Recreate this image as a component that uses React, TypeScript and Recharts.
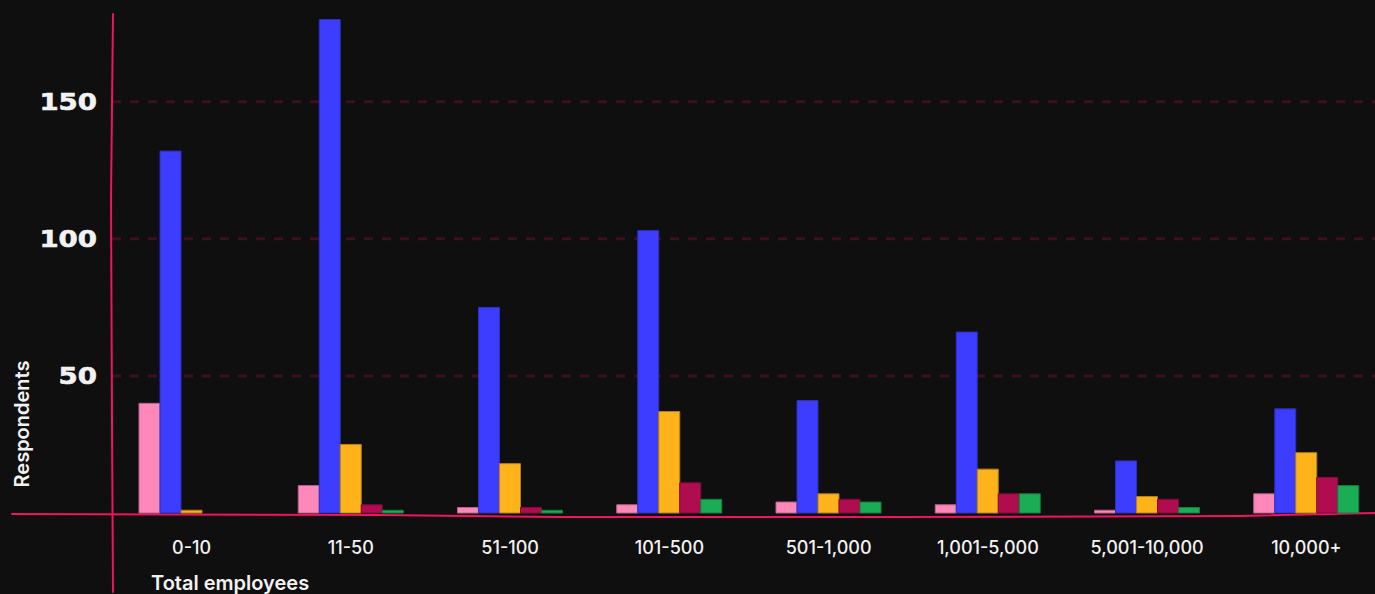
import React from 'react';
import {
  BarChart,
  Bar,
  XAxis,
  YAxis,
  CartesianGrid,
  Label,
  Customized,
} from 'recharts';

// company size buckets
const CATEGORIES = [
  '0-10',
  '11-50',
  '51-100',
  '101-500',
  '501-1,000',
  '1,001-5,000',
  '5,001-10,000',
  '10,000+',
];

// respondents per bucket, one array per coloured series
const PINK = [40, 10, 2, 3, 4, 3, 1, 7];
const BLUE = [132, 180, 75, 103, 41, 66, 19, 38];
const ORANGE = [1, 25, 18, 37, 7, 16, 6, 22];
const CRIMSON = [0, 3, 2, 11, 5, 7, 5, 13];
const GREEN = [0, 1, 1, 5, 4, 7, 2, 10];

const Y_TICKS = [50, 100, 150];

const SERIES = [
  { key: 'pink', values: PINK, fill: '#ff88bb', stroke: '#b8648c' },
  { key: 'blue', values: BLUE, fill: '#3d3dff', stroke: '#2f2fb8' },
  { key: 'orange', values: ORANGE, fill: '#ffb31a', stroke: '#b58019' },
  { key: 'crimson', values: CRIMSON, fill: '#b00d50', stroke: '#7e0c3b' },
  { key: 'green', values: GREEN, fill: '#1aad55', stroke: '#157c3f' },
];

const data = CATEGORIES.map((name, i) => {
  const row: Record<string, string | number> = { name };
  SERIES.forEach((s) => {
    row[s.key] = s.values[i];
  });
  return row;
});

const BG = '#0f0f0f';
const ACCENT = '#f0145e';
const TEXT = '#f2f2f2';

const CHART_W = 1386;
const CHART_H = 594;

function YTick({ x, y, payload }: any) {
  return (
    <g transform={`translate(${x},${y})`}>
      <text
        textAnchor="end"
        dominantBaseline="central"
        transform="scale(1.2,1)"
        fill={TEXT}
        fontFamily="DejaVu Sans"
        fontWeight={700}
        fontSize={23}
        stroke={TEXT}
        strokeWidth={0.6}
      >
        {payload.value}
      </text>
    </g>
  );
}

function YTitle({ viewBox }: any) {
  const cx = viewBox.x + 22;
  const cy = viewBox.y + viewBox.height - 89;
  return (
    <text
      x={cx}
      y={cy}
      textAnchor="middle"
      dominantBaseline="central"
      transform={`rotate(-90, ${cx}, ${cy})`}
      fill={TEXT}
      fontFamily="Inter"
      fontWeight={600}
      fontSize={20}
    >
      Respondents
    </text>
  );
}

function XTitle({ viewBox }: any) {
  return (
    <text
      x={viewBox.x + 39}
      y={viewBox.y + 77}
      fill={TEXT}
      fontFamily="Inter"
      fontWeight={600}
      fontSize={20}
    >
      Total employees
    </text>
  );
}

// hand-drawn looking axis strokes
function SketchAxes() {
  return (
    <g fill="none" stroke={ACCENT} strokeWidth={2} strokeLinecap="round">
      <path d="M113,14 L111,200 L112,420 L113,592" />
      <path d="M12,514 L380,515 L560,517 L900,517 L1240,516 L1380,513" />
    </g>
  );
}

export default function App() {
  return (
    <div
      style={{
        position: 'fixed',
        inset: 0,
        background: BG,
        overflow: 'hidden',
      }}
    >
      <BarChart
        width={CHART_W}
        height={CHART_H}
        data={data}
        margin={{ top: 14, right: 0, bottom: 0, left: 0 }}
        barSize={21}
        barGap={0}
      >
        <CartesianGrid
          horizontal
          vertical={false}
          syncWithTicks
          stroke="#3d0f22"
          strokeWidth={3}
          strokeDasharray="9 9"
        />
        <XAxis
          dataKey="name"
          height={81}
          axisLine={false}
          tickLine={false}
          tickSize={0}
          tickMargin={28}
          interval={0}
          tick={{
            fill: TEXT,
            fontFamily: 'Inter',
            fontWeight: 500,
            fontSize: 18,
          }}
        >
          <Label content={XTitle} />
        </XAxis>
        <YAxis
          width={112}
          domain={[0, 182]}
          ticks={Y_TICKS}
          axisLine={false}
          tickLine={false}
          tickSize={0}
          tickMargin={15}
          tick={<YTick />}
        >
          <Label content={YTitle} />
        </YAxis>
        {SERIES.map((s) => (
          <Bar
            key={s.key}
            dataKey={s.key}
            fill={s.fill}
            stroke={s.stroke}
            strokeWidth={1}
            isAnimationActive={false}
          />
        ))}
        <Customized component={<SketchAxes />} />
      </BarChart>
    </div>
  );
}
